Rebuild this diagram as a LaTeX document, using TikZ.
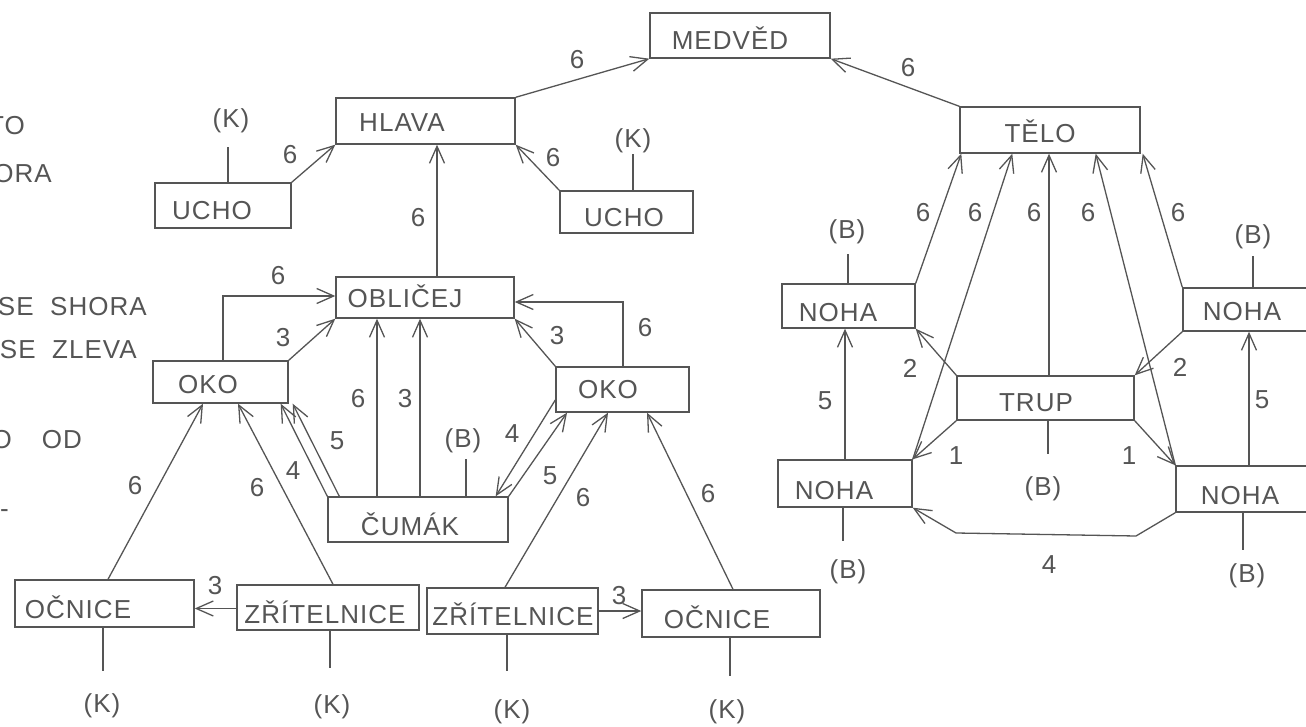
\documentclass[tikz,border=0pt]{standalone}
\usepackage{fontspec}
\setmainfont{Liberation Sans}[LetterSpace=4.0]
\usetikzlibrary{arrows.meta,calc}
\definecolor{ink}{HTML}{555555}
\tikzset{
  box/.style={draw=ink, line width=1.4pt, inner sep=0pt},
  txt/.style={text=ink, font=\fontsize{26}{26}\selectfont, inner sep=0pt, anchor=base},
  num/.style={txt},
  ln/.style={draw=ink, line width=1.3pt},
  arr/.style={ln, -{Straight Barb[length=17pt,width=15pt]}},
}
\begin{document}
\begin{tikzpicture}[x=1pt,y=-1pt]
\fill[white] (0,0) rectangle (1306,727);
\useasboundingbox (0,0) rectangle (1306,727);

% ---------- boxes ----------
\node[box, minimum width=180pt, minimum height=45pt] (medved) at (740,35.5) {};
\node[box, minimum width=179pt, minimum height=46pt] (hlava) at (425.5,121) {};
\node[box, minimum width=180pt, minimum height=46pt] (telo) at (1050,130) {};
\node[box, minimum width=136pt, minimum height=45pt] (uchoL) at (223,205.5) {};
\node[box, minimum width=133pt, minimum height=42pt] (uchoR) at (626.5,212) {};
\node[box, minimum width=178pt, minimum height=41pt] (oblicej) at (425,297.5) {};
\node[box, minimum width=135pt, minimum height=42pt] (okoL) at (220.5,382) {};
\node[box, minimum width=133pt, minimum height=45pt] (okoR) at (622.5,389.5) {};
\node[box, minimum width=180pt, minimum height=45pt] (cumak) at (418,519.5) {};
\node[box, minimum width=179pt, minimum height=47pt] (ocniceL) at (104.5,603.5) {};
\node[box, minimum width=182pt, minimum height=45pt] (zritL) at (328,607.5) {};
\node[box, minimum width=171pt, minimum height=46pt] (zritR) at (512.5,611) {};
\node[box, minimum width=178pt, minimum height=47pt] (ocniceR) at (731,613.5) {};
\node[box, minimum width=133pt, minimum height=44pt] (nohaUL) at (848.5,306) {};
\node[box, minimum width=137pt, minimum height=43pt] (nohaUR) at (1251.5,309.5) {};
\node[box, minimum width=177pt, minimum height=44pt] (trup) at (1045.5,398) {};
\node[box, minimum width=134pt, minimum height=47pt] (nohaLL) at (845,483.5) {};
\node[box, minimum width=144pt, minimum height=46pt] (nohaLR) at (1248,489) {};

% ---------- box texts ----------
\node[txt] (tmedved) at (730,50) {MEDVĚD};
\node[txt] (thlava) at (402,132) {HLAVA};
\node[txt] (ttelo) at (1040,143) {TĚLO};
\node[txt] (tuchoL) at (212,220) {UCHO};
\node[txt] (tuchoR) at (624,227) {UCHO};
\node[txt] (toblicej) at (405,308) {OBLIČEJ};
\node[txt] (tokoL) at (208,393) {OKO};
\node[txt] (tokoR) at (608,398) {OKO};
\node[txt] (tcumak) at (410,535) {ČUMÁK};
\node[txt] (tocniceL) at (78,618) {OČNICE};
\node[txt] (tzritL) at (325,623) {ZŘÍTELNICE};
\node[txt] (tzritR) at (513,625) {ZŘÍTELNICE};
\node[txt] (tocniceR) at (717,628) {OČNICE};
\node[txt] (tnohaUL) at (838,321) {NOHA};
\node[txt] (tnohaUR) at (1242,320) {NOHA};
\node[txt] (ttrup) at (1036,411) {TRUP};
\node[txt] (tnohaLL) at (834,499) {NOHA};
\node[txt] (tnohaLR) at (1240,504) {NOHA};

% ---------- left margin (cut) texts ----------
\node[txt, anchor=base east] (m1) at (25,135) {TO};
\node[txt, anchor=base east] (m2) at (52,183) {SHORA};
\node[txt, anchor=base east] (m3) at (147,315) {SE\ \ SHORA};
\node[txt, anchor=base east] (m4) at (137,358) {SE\ \ ZLEVA};
\node[txt, anchor=base east] (m5) at (12,448) {O};
\node[txt, anchor=base east] (m6) at (82,448) {OD};
\node[txt, anchor=base east] (m7) at (9,517) {-};

% ---------- head ----------
\draw[arr] (hlava.north east) -- (medved.south west);
\draw[arr] (telo.north west) -- (medved.south east);
\draw[arr] (uchoL.north east) -- (hlava.south west);
\draw[arr] (uchoR.north west) -- (hlava.south east);
\draw[arr] ([xshift=12pt]oblicej.north) -- ([xshift=12pt]oblicej.north |- hlava.south);
\draw[arr] ([xshift=2.5pt]okoL.north) |- ([yshift=1.5pt]oblicej.west);
\draw[arr] (okoL.north east) -- (oblicej.south west);
\draw[arr] ([xshift=-41pt]cumak.north) -- ([xshift=-41pt]cumak.north |- oblicej.south);
\draw[arr] ([xshift=2pt]cumak.north) -- ([xshift=2pt]cumak.north |- oblicej.south);
\draw[arr] ([xshift=12pt]cumak.north west) -- ([xshift=4pt]okoL.south east);
\draw[arr] (cumak.north west) -- ([xshift=-8pt]okoL.south east);
\draw[arr] ([xshift=5pt]zritL.north) -- ([xshift=17.5pt]okoL.south);
\draw[arr] ([xshift=3.5pt]ocniceL.north) -- ([xshift=-17.5pt]okoL.south);
\draw[arr] ([yshift=-1pt]zritL.west) -- ([yshift=-1pt]zritL.west -| ocniceL.east);
\draw[arr] ([xshift=0.5pt]okoR.north) |- ([yshift=-4.5pt]oblicej.east);
\draw[arr] (okoR.north west) -- (oblicej.south east);
\draw[arr] ([yshift=-10.5pt]okoR.west) -- ([xshift=-13pt]cumak.north east);
\draw[arr] (cumak.north east) -- ([xshift=-55.5pt]okoR.south);
\draw[arr] ([xshift=-7.5pt]zritR.north) -- ([xshift=-14.5pt]okoR.south);
\draw[arr] ([xshift=2pt]ocniceR.north) -- ([xshift=24.5pt]okoR.south);
\draw[arr] (zritR.east) -- (zritR.east -| ocniceR.west);

% head attribute stubs
\draw[ln] ([xshift=5pt]uchoL.north) -- ++(0,-35) coordinate (aUL);
\draw[ln] ([xshift=6.5pt]uchoR.north) -- ++(0,-36) coordinate (aUR);
\draw[ln] ([xshift=48pt]cumak.north) -- ++(0,-37) coordinate (aCU);
\draw[ln] ([xshift=-1.5pt]ocniceL.south) -- ++(0,43) coordinate (aOL);
\draw[ln] ([xshift=2pt]zritL.south) -- ++(0,37) coordinate (aZL);
\draw[ln] ([xshift=-5.5pt]zritR.south) -- ++(0,36) coordinate (aZR);
\draw[ln] ([xshift=-1pt]ocniceR.south) -- ++(0,38) coordinate (aOR);

\node[txt] (kUL) at (231,128) {(K)};
\node[txt] (kUR) at (633,148) {(K)};
\node[txt] (bCU) at (463,447) {(B)};
\node[txt] (kOL) at (102,712) {(K)};
\node[txt] (kZL) at (332,713) {(K)};
\node[txt] (kZR) at (512,718) {(K)};
\node[txt] (kOR) at (727,718) {(K)};

% head numbers
\node[num] (n1) at (577,69) {6};
\node[num] (n2) at (908,77) {6};
\node[num] (n3) at (290,164) {6};
\node[num] (n4) at (553,167) {6};
\node[num] (n5) at (418,227) {6};
\node[num] (n6) at (278,284) {6};
\node[num] (n7) at (283,346) {3};
\node[num] (n8) at (358,407) {6};
\node[num] (n9) at (405,407) {3};
\node[num] (n10) at (337,449) {5};
\node[num] (n11) at (293,479) {4};
\node[num] (n12) at (257,496) {6};
\node[num] (n13) at (135,494) {6};
\node[num] (n14) at (215,594) {3};
\node[num] (n15) at (645,336) {6};
\node[num] (n16) at (557,344) {3};
\node[num] (n17) at (512,442) {4};
\node[num] (n18) at (550,484) {5};
\node[num] (n19) at (583,506) {6};
\node[num] (n20) at (708,502) {6};
\node[num] (n21) at (619,604) {3};

% ---------- body ----------
\draw[arr] (nohaUL.north east) -- ([xshift=2pt]telo.south west);
\draw[arr] (nohaLL.north east) -- ([xshift=53pt]telo.south west);
\draw[arr] ([xshift=3.5pt]trup.north) -- ([xshift=3.5pt]trup.north |- telo.south);
\draw[arr] (nohaLR.north west) -- ([xshift=-45pt]telo.south east);
\draw[arr] (nohaUR.north west) -- ([xshift=2pt]telo.south east);
\draw[arr] (trup.north west) -- (nohaUL.south east);
\draw[arr] (nohaUR.south west) -- (trup.north east);
\draw[arr] (nohaLL.north) -- (nohaLL.north |- nohaUL.south);
\draw[arr] ([xshift=1pt]nohaLR.north) -- ([xshift=1pt]nohaLR.north |- nohaUR.south);
\draw[arr] (trup.south west) -- (nohaLL.north east);
\draw[arr] (trup.south east) -- (nohaLR.north west);
\coordinate (b1) at (1136,536);
\coordinate (b2) at (956,533);
\draw[arr] (nohaLR.south west) -- (b1) -- (b2) -- (nohaLL.south east);

% body attribute stubs
\draw[ln] ([xshift=-0.5pt]nohaUL.north) -- ++(0,-29) coordinate (aNUL);
\draw[ln] ([xshift=1.5pt]nohaUR.north) -- ++(0,-31) coordinate (aNUR);
\draw[ln] ([xshift=2.5pt]trup.south) -- ++(0,33) coordinate (aTR);
\draw[ln] ([xshift=-2pt]nohaLL.south) -- ++(0,33) coordinate (aNLL);
\draw[ln] ([xshift=-5pt]nohaLR.south) -- ++(0,37) coordinate (aNLR);

\node[txt] (bNUL) at (847,239) {(B)};
\node[txt] (bNUR) at (1253,244) {(B)};
\node[txt] (bTR) at (1043,495) {(B)};
\node[txt] (bNLL) at (848,578) {(B)};
\node[txt] (bNLR) at (1247,582) {(B)};

% body numbers
\node[num] (p1) at (923,222) {6};
\node[num] (p2) at (975,222) {6};
\node[num] (p3) at (1034,222) {6};
\node[num] (p4) at (1088,222) {6};
\node[num] (p5) at (1178,222) {6};
\node[num] (p6) at (910,377) {2};
\node[num] (p7) at (1180,376) {2};
\node[num] (p8) at (825,409) {5};
\node[num] (p9) at (1262,408) {5};
\node[num] (p10) at (956,464) {1};
\node[num] (p11) at (1129,464) {1};
\node[num] (p12) at (1049,573) {4};
\end{tikzpicture}
\end{document}
